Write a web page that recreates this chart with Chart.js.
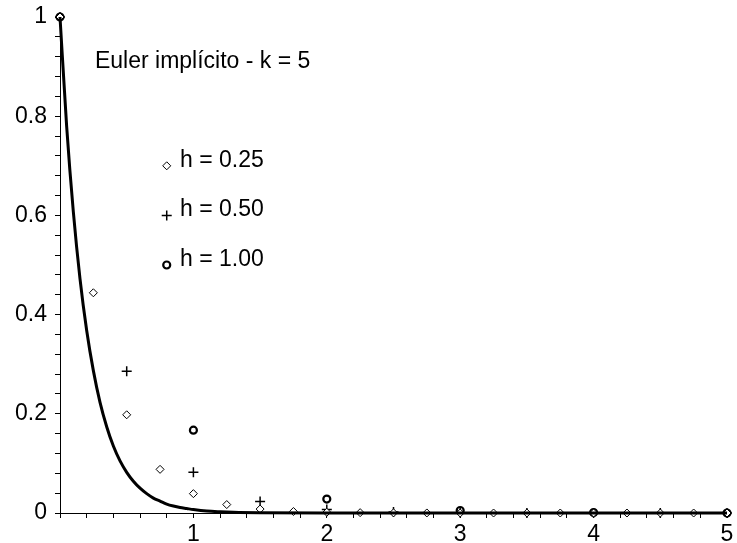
<!DOCTYPE html>
<html>
<head>
<meta charset="utf-8">
<script src="https://cdn.jsdelivr.net/npm/chart.js@4"></script>
<style>
  html, body { margin: 0; padding: 0; background: #fff; }
  #wrap { width: 737px; height: 543px; }
</style>
</head>
<body>
<div id="wrap"><canvas id="myChart"></canvas></div>
<script>
// exact solution (solid line)
const exactT = [0, 0.05, 0.1, 0.15, 0.2, 0.25, 0.3, 0.35, 0.4, 0.45, 0.5, 0.55, 0.6, 0.65, 0.7, 0.75, 0.8, 0.85, 0.9, 0.95, 1, 1.1, 1.2, 1.3, 1.5, 2, 3, 4, 5];
const exactY = [1, 0.779, 0.607, 0.472, 0.368, 0.287, 0.223, 0.174, 0.135, 0.105, 0.082, 0.064, 0.050, 0.039, 0.030, 0.024, 0.018, 0.014, 0.011, 0.009, 0.007, 0.004, 0.0025, 0.0015, 0.0006, 0.0001, 0, 0, 0];

// implicit Euler, h = 0.25 (diamonds)
const h025T = [0, 0.25, 0.5, 0.75, 1, 1.25, 1.5, 1.75, 2, 2.25, 2.5, 2.75, 3, 3.25, 3.5, 3.75, 4, 4.25, 4.5, 4.75, 5];
const h025Y = [1, 0.444, 0.198, 0.088, 0.039, 0.017, 0.008, 0.003, 0.0015, 0.0007, 0.0003, 0.0001, 0, 0, 0, 0, 0, 0, 0, 0, 0];

// h = 0.50 (crosses)
const h050T = [0, 0.5, 1, 1.5, 2, 2.5, 3, 3.5, 4, 4.5, 5];
const h050Y = [1, 0.286, 0.082, 0.023, 0.007, 0.002, 0.0005, 0.0001, 0, 0, 0];

// h = 1.00 (circles)
const h100T = [0, 1, 2, 3, 4, 5];
const h100Y = [1, 0.167, 0.028, 0.005, 0.001, 0];

const xTickLabels = ["1", "2", "3", "4", "5"];
const yTickLabels = ["0", "0.2", "0.4", "0.6", "0.8", "1"];

const titleText = "Euler implícito - k = 5";
const titleX = 0.262;
const titleY = 0.897;
const legendLabels = ["h = 0.25", "h = 0.50", "h = 1.00"];
const legendX = 0.8;
const legendY = [0.7, 0.6, 0.5];
const legendTextX = 0.9;

const FONT = '"Liberation Sans", Arial, sans-serif';

function pts(xs, ys) {
  return xs.map((x, i) => ({ x: x, y: ys[i] }));
}

const diamond = { pointStyle: "rectRot", pointRadius: 4, borderWidth: 1, borderColor: "#000", backgroundColor: "#fff" };
const cross = { pointStyle: "cross", pointRadius: 5, borderWidth: 1.5, borderColor: "#000", backgroundColor: "#000" };
const ring = { pointStyle: "circle", pointRadius: 3.5, borderWidth: 2.2, borderColor: "#000", backgroundColor: "#fff" };

const textPlugin = {
  id: "maplePlotText",
  afterDatasetsDraw(chart) {
    const ctx = chart.ctx;
    const xs = chart.scales.x, ys = chart.scales.y;
    ctx.save();
    ctx.fillStyle = "#000";
    ctx.font = "23px " + FONT;
    ctx.textAlign = "left";
    ctx.textBaseline = "alphabetic";
    ctx.fillText(titleText, xs.getPixelForValue(titleX), ys.getPixelForValue(titleY));
    legendLabels.forEach((lab, i) => {
      ctx.fillText(lab, xs.getPixelForValue(legendTextX), ys.getPixelForValue(legendY[i]) + 1);
    });
    ctx.restore();
  }
};

const myChart = new Chart(document.getElementById("myChart"), {
  type: "scatter",
  data: {
    datasets: [
      {
        label: "exact",
        data: pts(exactT, exactY),
        showLine: true,
        borderColor: "#000",
        borderWidth: 3,
        pointRadius: 0,
        cubicInterpolationMode: "monotone",
        clip: false,
      },
      Object.assign({ label: "h = 0.25", data: pts(h025T, h025Y), clip: false }, diamond),
      Object.assign({ label: "h = 0.50", data: pts(h050T, h050Y), clip: false }, cross),
      Object.assign({ label: "h = 1.00", data: pts(h100T, h100Y), clip: false }, ring),
      Object.assign({ label: "leg1", data: [{ x: legendX, y: legendY[0] }] }, diamond),
      Object.assign({ label: "leg2", data: [{ x: legendX, y: legendY[1] }] }, cross),
      Object.assign({ label: "leg3", data: [{ x: legendX, y: legendY[2] }] }, ring),
    ],
  },
  options: {
    responsive: true,
    maintainAspectRatio: false,
    animation: false,
    layout: { padding: { top: 17, right: 10, left: 0, bottom: 0 } },
    plugins: {
      legend: { display: false },
      tooltip: { enabled: false },
    },
    scales: {
      x: {
        type: "linear",
        min: 0,
        max: 5,
        afterFit(scale) { scale.height = 30; },
        border: { color: "#000", width: 1 },
        grid: { drawOnChartArea: false, tickLength: 5, tickColor: "#000" },
        ticks: {
          stepSize: 0.2,
          autoSkip: false,
          maxRotation: 0,
          padding: 3,
          color: "#000",
          font: { family: FONT, size: 23 },
          callback(value) {
            const n = Math.round(value);
            if (Math.abs(value - n) < 1e-6 && n >= 1) return xTickLabels[n - 1];
            return "";
          },
        },
      },
      y: {
        type: "linear",
        min: 0,
        max: 1,
        afterFit(scale) {
          scale.width = 60;
          scale.paddingTop = 0;
          scale.paddingBottom = 0;
        },
        border: { color: "#000", width: 1 },
        grid: { drawOnChartArea: false, tickLength: 5, tickColor: "#000" },
        ticks: {
          stepSize: 0.04,
          autoSkip: false,
          padding: 8,
          color: "#000",
          font: { family: FONT, size: 23 },
          callback(value) {
            const n = Math.round(value / 0.2);
            if (Math.abs(value - n * 0.2) < 1e-6) return yTickLabels[n];
            return "";
          },
        },
      },
    },
  },
  plugins: [textPlugin],
});
</script>
</body>
</html>
